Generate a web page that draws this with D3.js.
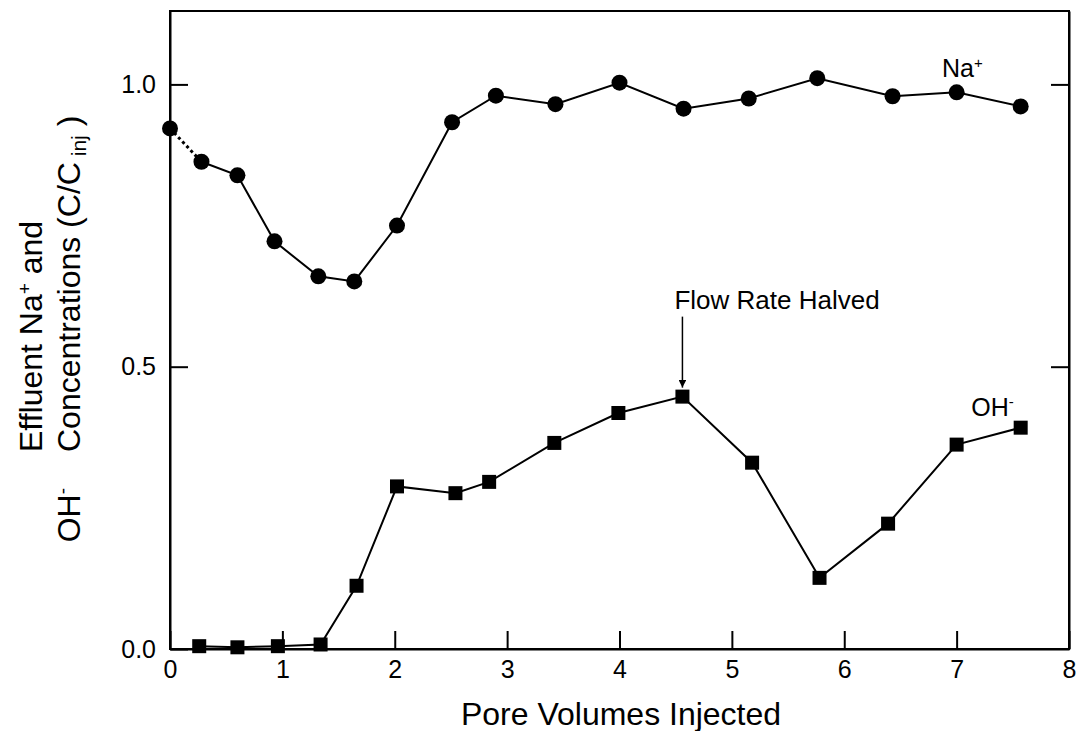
<!DOCTYPE html>
<html>
<head>
<meta charset="utf-8">
<script src="https://cdn.jsdelivr.net/npm/d3@7"></script>
<style>
  body { margin: 0; background: #fff; }
  svg text { font-family: "Liberation Sans", Arial, Helvetica, sans-serif; fill: #000; }
  .axis path, .axis line { stroke: #000; stroke-width: 2; }
</style>
</head>
<body>
<div class="chart"></div>
<script>
  var width = 1080;
  var height = 731;

  var margin_left = 170;
  var margin_right = 11;
  var margin_top = 11;
  var margin_bottom = 82;

  // pore volumes injected vs C/Cinj
  var naX = [0, 0.28, 0.6, 0.93, 1.32, 1.64, 2.02, 2.51, 2.90, 3.43, 4.0, 4.57, 5.15, 5.76, 6.43, 7.0, 7.57];
  var naY = [0.922, 0.863, 0.839, 0.722, 0.660, 0.651, 0.750, 0.933, 0.980, 0.965, 1.003, 0.957, 0.975, 1.011, 0.979, 0.986, 0.961];

  var ohX = [0.26, 0.6, 0.96, 1.34, 1.66, 2.02, 2.54, 2.84, 3.42, 3.99, 4.56, 5.18, 5.78, 6.39, 7.0, 7.57];
  var ohY = [0.005, 0.003, 0.005, 0.008, 0.112, 0.288, 0.276, 0.296, 0.365, 0.418, 0.447, 0.330, 0.126, 0.222, 0.362, 0.392];

  var xTicks = [0, 1, 2, 3, 4, 5, 6, 7, 8];
  var yTicks = [0, 0.5, 1.0];

  var plotW = width - margin_left - margin_right;
  var plotH = height - margin_top - margin_bottom;

  var svg = d3.select(".chart").append("svg")
    .attr("width", width)
    .attr("height", height);

  var g = svg.append("g")
    .attr("transform", "translate(" + margin_left + "," + margin_top + ")");

  var xS = d3.scaleLinear().domain([0, 8]).range([0, plotW]);
  var yS = d3.scaleLinear().domain([0, 1.13]).range([plotH, 0]);

  // frame
  g.append("rect")
    .attr("x", 0).attr("y", 0)
    .attr("width", plotW).attr("height", plotH)
    .attr("fill", "none").attr("stroke", "#000").attr("stroke-width", 2);

  var xAxis = g.append("g")
    .attr("class", "axis")
    .attr("transform", "translate(0," + plotH + ")")
    .call(d3.axisBottom(xS).tickValues(xTicks).tickFormat(d3.format("d"))
      .tickSizeInner(-18).tickSizeOuter(0).tickPadding(11));
  xAxis.selectAll("text").style("font-size", "25px");

  var yAxis = g.append("g")
    .attr("class", "axis")
    .call(d3.axisLeft(yS).tickValues(yTicks).tickFormat(d3.format(".1f"))
      .tickSizeInner(-18).tickSizeOuter(0).tickPadding(14));
  yAxis.selectAll("text").style("font-size", "25px");

  g.append("g")
    .attr("class", "axis")
    .attr("transform", "translate(" + plotW + ",0)")
    .call(d3.axisRight(yS).tickValues([0.5, 1.0]).tickFormat("")
      .tickSizeInner(-18).tickSizeOuter(0));

  var line = d3.line()
    .x(function(d){ return xS(d[0]); })
    .y(function(d){ return yS(d[1]); });

  var naPts = naX.map(function(x, i){ return [x, naY[i]]; });
  var ohPts = ohX.map(function(x, i){ return [x, ohY[i]]; });

  // first Na+ segment is dotted
  g.append("path")
    .attr("d", line(naPts.slice(0, 2)))
    .attr("fill", "none").attr("stroke", "#000").attr("stroke-width", 3)
    .attr("stroke-dasharray", "3,3");

  g.append("path")
    .attr("d", line(naPts.slice(1)))
    .attr("fill", "none").attr("stroke", "#000").attr("stroke-width", 2);

  g.append("path")
    .attr("d", line(ohPts))
    .attr("fill", "none").attr("stroke", "#000").attr("stroke-width", 2);

  g.selectAll(".na")
    .data(naPts)
    .enter()
    .append("circle")
    .attr("class", "na")
    .attr("cx", function(d){ return xS(d[0]); })
    .attr("cy", function(d){ return yS(d[1]); })
    .attr("r", 8)
    .attr("fill", "#000");

  var sq = 14;
  g.selectAll(".oh")
    .data(ohPts)
    .enter()
    .append("rect")
    .attr("class", "oh")
    .attr("x", function(d){ return xS(d[0]) - sq/2; })
    .attr("y", function(d){ return yS(d[1]) - sq/2; })
    .attr("width", sq)
    .attr("height", sq)
    .attr("fill", "#000");

  // series labels
  var naLbl = g.append("text")
    .attr("x", xS(6.87)).attr("y", yS(1.015) + 1)
    .style("font-size", "25px")
    .text("Na");
  naLbl.append("tspan").attr("dy", -9).style("font-size", "15px").text("+");

  var ohLbl = g.append("text")
    .attr("x", xS(7.13)).attr("y", yS(0.41) - 2)
    .style("font-size", "25px")
    .text("OH");
  ohLbl.append("tspan").attr("dy", -9).style("font-size", "15px").text("-");

  // flow rate annotation
  var peak = ohPts[10];
  g.append("defs").append("marker")
    .attr("id", "arrow")
    .attr("viewBox", "0 0 10 10")
    .attr("refX", 10).attr("refY", 5)
    .attr("markerWidth", 5).attr("markerHeight", 5)
    .attr("orient", "auto")
    .append("path")
    .attr("d", "M0,0 L10,5 L0,10 z")
    .attr("fill", "#000");

  g.append("line")
    .attr("x1", xS(peak[0])).attr("x2", xS(peak[0]))
    .attr("y1", yS(peak[1]) - 80).attr("y2", yS(peak[1]) - 9)
    .attr("stroke", "#000").attr("stroke-width", 1.5)
    .attr("marker-end", "url(#arrow)");

  g.append("text")
    .attr("x", xS(peak[0]) - 8).attr("y", yS(peak[1]) - 88)
    .style("font-size", "26px")
    .text("Flow Rate Halved");

  // axis titles
  svg.append("text")
    .attr("x", 621).attr("y", 725)
    .attr("text-anchor", "middle")
    .style("font-size", "32px")
    .text("Pore Volumes Injected");

  var t1 = svg.append("text")
    .attr("transform", "translate(42,452) rotate(-90)")
    .style("font-size", "32px")
    .text("Effluent Na");
  t1.append("tspan").attr("dy", -11).style("font-size", "19px").text("+");
  t1.append("tspan").attr("dy", 11).text(" and");

  var t2 = svg.append("text")
    .attr("transform", "translate(80,452) rotate(-90)")
    .style("font-size", "32px")
    .text("Concentrations (C/C");
  t2.append("tspan").attr("dy", 6).style("font-size", "21px").text(" inj");
  t2.append("tspan").attr("dy", -6).text(" )");

  var t3 = svg.append("text")
    .attr("transform", "translate(80,488) rotate(-90)")
    .attr("text-anchor", "end")
    .style("font-size", "32px")
    .text("OH");
  t3.append("tspan").attr("dy", -11).style("font-size", "19px").text("-");
</script>
</body>
</html>
